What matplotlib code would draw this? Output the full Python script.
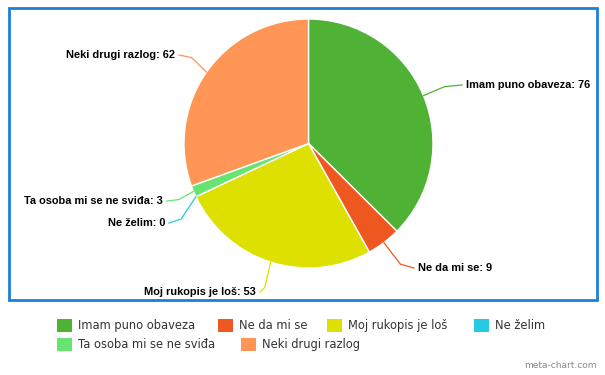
import numpy as np
import matplotlib.pyplot as plt
from matplotlib.patches import Rectangle

# data
categories = ["Imam puno obaveza", "Ne da mi se", "Moj rukopis je loš",
              "Ne želim", "Ta osoba mi se ne sviđa", "Neki drugi razlog"]
values = [76, 9, 53, 0, 3, 62]
colors = ["#4fb234", "#ee5720", "#dde000", "#27c9e2", "#66e472", "#ff9656"]

W, H = 605, 375
fig = plt.figure(figsize=(W / 100, H / 100), dpi=100)
ax = fig.add_axes([0, 0, 1, 1])
ax.set_xlim(0, W)
ax.set_ylim(0, H)
ax.axis("off")

cx, cy, r = 308.5, H - 143.5, 124.5

wedges, _ = ax.pie(values, colors=colors, startangle=90, counterclock=False,
                   center=(cx, cy), radius=r,
                   wedgeprops=dict(edgecolor="white", linewidth=1))
ax.set_xlim(0, W)
ax.set_ylim(0, H)
ax.set_aspect("auto")

# label anchors (pixel coords, y from top): text x, text y, ha
label_pos = [(466, 85, "left"), (418, 268, "left"), (256, 292, "right"),
             (165, 223, "right"), (163, 201, "right"), (175, 55, "right")]

for w, cat, val, col, (tx, ty, ha) in zip(wedges, categories, values, colors, label_pos):
    ang = np.deg2rad((w.theta1 + w.theta2) / 2)
    ex, ey = cx + r * np.cos(ang), cy + r * np.sin(ang)
    lx = tx - 4 if ha == "left" else tx + 4
    ly = H - ty
    mx = ex + (lx - ex) * 0.55
    my = ey + (ly - ey) * 0.85
    ax.plot([ex, mx, lx], [ey, my, ly], color=col, lw=0.9)
    ax.text(tx, H - ty, f"{cat}: {val}", ha=ha, va="center",
            fontsize=7.9, fontweight="bold", family="Liberation Sans")

# border
ax.add_patch(Rectangle((9, H - 300), 588, 292, fill=False,
                       edgecolor="#1c7fd6", lw=2))

# legend (flow layout)
legend_pos = [(57, 325.5), (218, 325.5), (327, 325.5), (474, 325.5), (57, 344.5), (241, 344.5)]
for cat, col, (lx, ly) in zip(categories, colors, legend_pos):
    ax.add_patch(Rectangle((lx, H - ly - 6.5), 15, 13, facecolor=col, edgecolor="none"))
    ax.text(lx + 21, H - ly, cat, ha="left", va="center", fontsize=8.3,
            family="DejaVu Sans", color="#333333")

ax.text(597, H - 366, "meta-chart.com", ha="right", va="center",
        fontsize=6.5, color="#888888")

fig.savefig("out.png", dpi=100)
